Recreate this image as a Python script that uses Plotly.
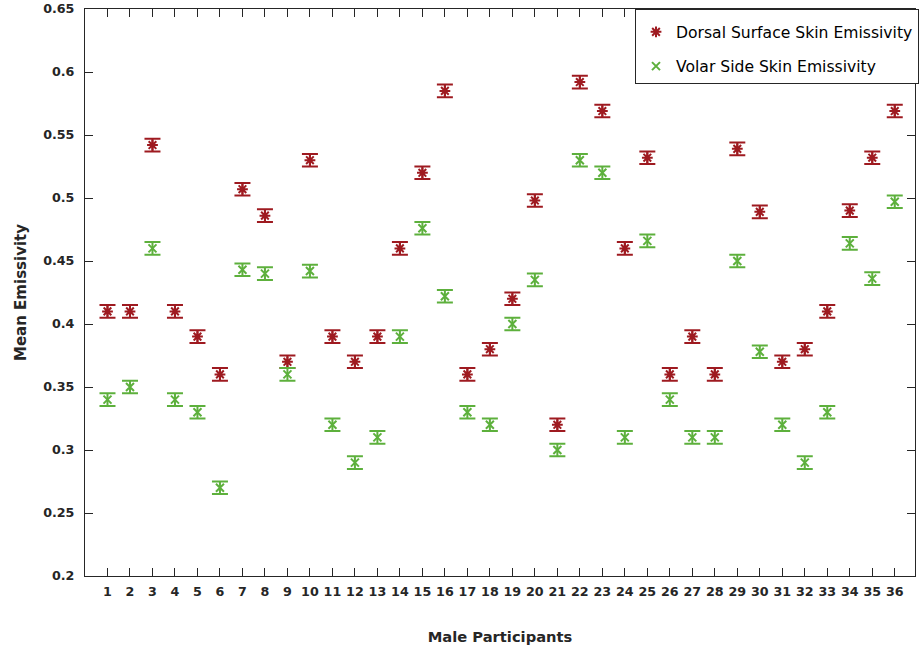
import plotly.graph_objects as go

participants = list(range(1, 37))
dorsal = [0.41, 0.41, 0.542, 0.41, 0.39, 0.36, 0.507, 0.486, 0.37, 0.530,
          0.39, 0.37, 0.39, 0.46, 0.52, 0.585, 0.36, 0.38, 0.42, 0.498,
          0.32, 0.592, 0.569, 0.46, 0.532, 0.36, 0.39, 0.36, 0.539, 0.489,
          0.37, 0.38, 0.41, 0.49, 0.532, 0.569]
volar = [0.34, 0.35, 0.46, 0.34, 0.33, 0.27, 0.443, 0.44, 0.36, 0.442,
         0.32, 0.29, 0.31, 0.39, 0.476, 0.422, 0.33, 0.32, 0.40, 0.435,
         0.30, 0.53, 0.52, 0.31, 0.466, 0.34, 0.31, 0.31, 0.45, 0.378,
         0.32, 0.29, 0.33, 0.464, 0.436, 0.497]
dorsal_err = [0.005] * 36
volar_err = [0.005] * 36
ytick_vals = [0.2, 0.25, 0.3, 0.35, 0.4, 0.45, 0.5, 0.55, 0.6, 0.65]
ytick_text = ["0.2", "0.25", "0.3", "0.35", "0.4", "0.45", "0.5", "0.55", "0.6", "0.65"]

RED = "#9E1A20"
GREEN = "#5DB03C"
FONT = "DejaVu Sans, Liberation Sans, Arial, sans-serif"
TXT = "#262626"

fig = go.Figure()
fig.add_trace(go.Scatter(
    x=participants, y=dorsal, mode="markers", name="Dorsal Surface Skin Emissivity",
    legendgroup="a",
    marker=dict(symbol="asterisk-open", size=9, color=RED, line=dict(color=RED, width=2)),
    error_y=dict(type="data", array=dorsal_err, visible=True, color=RED, thickness=2, width=8),
))
fig.add_trace(go.Scatter(
    x=participants, y=volar, mode="markers", name="Volar Side Skin Emissivity",
    legendgroup="b",
    marker=dict(symbol="x-thin-open", size=8, color=GREEN, line=dict(color=GREEN, width=2)),
    error_y=dict(type="data", array=volar_err, visible=True, color=GREEN, thickness=2, width=8),
))

axis_common = dict(
    showline=True, linecolor=TXT, linewidth=1, mirror="ticks",
    ticks="inside", ticklen=8, tickcolor=TXT, tickwidth=1,
    showgrid=False, zeroline=False,
    tickfont=dict(family=FONT, size=12.7, color=TXT, weight="bold"),
)

fig.update_layout(
    width=919, height=648,
    margin=dict(l=85, r=0, t=9, b=72),
    paper_bgcolor="white", plot_bgcolor="white",
    font=dict(family=FONT, color=TXT),
    xaxis=dict(
        range=[0, 36.9], tickmode="array", tickvals=participants,
        ticktext=[str(p) for p in participants],
        ticklabelstandoff=4,
        title=dict(text="Male Participants", font=dict(family=FONT, size=14.7, weight="bold", color=TXT), standoff=33),
        **axis_common,
    ),
    yaxis=dict(
        range=[0.2, 0.65], tickmode="array", tickvals=ytick_vals, ticktext=ytick_text,
        ticklabelstandoff=7,
        title=dict(text="Mean Emissivity", font=dict(family=FONT, size=15, weight="bold", color=TXT), standoff=12),
        **axis_common,
    ),
    legend=dict(
        x=0.663, y=1, xanchor="left", yanchor="top",
        bgcolor="white", bordercolor=TXT, borderwidth=1,
        font=dict(family="DejaVu Sans, sans-serif", size=15.6, color="#000000"),
        traceorder="grouped", tracegroupgap=11,
        title=dict(text=" ", font=dict(size=4)),
    ),
    showlegend=True,
)

fig.write_html(
    "out.html",
    config={"displayModeBar": False},
    post_script="document.body.style.margin='0';document.body.style.padding='0';",
)
